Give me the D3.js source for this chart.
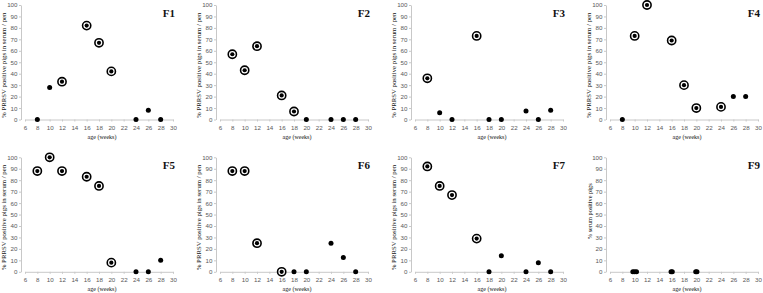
<!DOCTYPE html>
<html>
<head>
<meta charset="utf-8">
<style>
  body { margin: 0; background: #fff; }
  .axis path, .axis line { stroke: #c8c8c8; }
  .axis text { fill: #595959; font-family: "Liberation Sans", Arial, sans-serif; font-size: 6.2px; }
</style>
<script src="https://cdn.jsdelivr.net/npm/d3@7/dist/d3.min.js"></script>
</head>
<body>
<svg width="763" height="293"></svg>
<script>
// sampling ages (weeks)
var weeks = [8, 10, 12, 16, 18, 20, 24, 26, 28];

// % positive pigs per farm, and which points are circled
var f1 = [0, 28, 33, 82, 67, 42, 0, 8, 0];
var f1Ring = [0, 0, 1, 1, 1, 1, 0, 0, 0];
var f2 = [57, 43, 64, 21, 7, 0, 0, 0, 0];
var f2Ring = [1, 1, 1, 1, 1, 0, 0, 0, 0];
var f3 = [36, 6, 0, 73, 0, 0, 7.5, 0, 8];
var f3Ring = [1, 0, 0, 1, 0, 0, 0, 0, 0];
var f4 = [0, 73, 100, 69, 30, 10, 11, 20, 20];
var f4Ring = [0, 1, 1, 1, 1, 1, 1, 0, 0];
var f5 = [88, 100, 88, 83, 75, 8, 0, 0, 10];
var f5Ring = [1, 1, 1, 1, 1, 1, 0, 0, 0];
var f6 = [88, 88, 25, 0, 0, 0, 25, 12.5, 0];
var f6Ring = [1, 1, 1, 1, 0, 0, 0, 0, 0];
var f7 = [92, 75, 67, 29, 0, 14, 0, 8, 0];
var f7Ring = [1, 1, 1, 1, 0, 0, 0, 0, 0];

// F9 has several overlapping zero points
var f9Weeks = [9.7, 10, 10.3, 15.9, 16.1, 19.9, 20.1];
var f9 = [0, 0, 0, 0, 0, 0, 0];
var f9Ring = [0, 0, 0, 0, 0, 0, 0];

var xTicks = [6, 8, 10, 12, 14, 16, 18, 20, 22, 24, 26, 28, 30];
var yTicks = [0, 10, 20, 30, 40, 50, 60, 70, 80, 90, 100];

var panelNames = ["F1", "F2", "F3", "F4", "F5", "F6", "F7", "F9"];
var yTitles = ["% PRRSV positive pigs in serum / pen", "% PRRSV positive pigs in serum / pen",
  "% PRRSV positive pigs in serum / pen", "% PRRSV positive pigs in serum / pen",
  "% PRRSV positive pigs in serum / pen", "% PRRSV positive pigs in serum / pen",
  "% PRRSV positive pigs in serum / pen", "% serum positive pigs"];
var xTitle = "age (weeks)";

var panels = [
  {x: weeks, y: f1, ring: f1Ring}, {x: weeks, y: f2, ring: f2Ring},
  {x: weeks, y: f3, ring: f3Ring}, {x: weeks, y: f4, ring: f4Ring},
  {x: weeks, y: f5, ring: f5Ring}, {x: weeks, y: f6, ring: f6Ring},
  {x: weeks, y: f7, ring: f7Ring}, {x: f9Weeks, y: f9, ring: f9Ring}
];

var svg = d3.select("svg");
var plotW = 148, plotH = 114.5;

panels.forEach(function(p, i) {
  var col = i % 4, row = Math.floor(i / 4);
  var ox = 25 + col * 195, oy = 5 + row * 152.3;

  var g = svg.append("g").attr("transform", "translate(" + ox + "," + oy + ")");

  var x = d3.scaleLinear().domain([6, 30]).range([0, plotW]);
  var y = d3.scaleLinear().domain([0, 100]).range([plotH, 0]);

  g.append("g")
    .attr("class", "axis")
    .attr("transform", "translate(0," + plotH + ")")
    .call(d3.axisBottom(x).tickValues(xTicks).tickSize(2).tickSizeOuter(0).tickPadding(4));

  g.append("g")
    .attr("class", "axis")
    .attr("transform", "translate(-4,0)")
    .call(d3.axisLeft(y).tickValues(yTicks).tickSize(2).tickSizeOuter(0).tickPadding(1.5));

  var pts = p.x.map(function(d, k) { return {x: d, y: p.y[k], ring: p.ring[k]}; });

  g.selectAll("circle.ring")
    .data(pts.filter(function(d) { return d.ring; }))
    .enter().append("circle")
      .attr("class", "ring")
      .attr("cx", function(d) { return x(d.x); })
      .attr("cy", function(d) { return y(d.y); })
      .attr("r", 4.1)
      .attr("fill", "#fff")
      .attr("stroke", "#000")
      .attr("stroke-width", 1.6);

  g.selectAll("circle.dot")
    .data(pts)
    .enter().append("circle")
      .attr("class", "dot")
      .attr("cx", function(d) { return x(d.x); })
      .attr("cy", function(d) { return y(d.y); })
      .attr("r", function(d) { return d.ring ? 2.1 : 2.5; })
      .attr("fill", "#000");

  // titles
  g.append("text")
    .attr("transform", "translate(" + (i == 7 ? -20 : -21.5) + "," + (i == 7 ? 54 : plotH / 2 + 3) + ") rotate(-90)")
    .attr("text-anchor", "middle")
    .attr("dy", "0.35em")
    .attr("font-family", "'Liberation Serif', 'Times New Roman', serif")
    .attr("font-size", i == 7 ? 6.3 : 6.8)
    .attr("fill", "#111")
    .text(yTitles[i]);

  g.append("text")
    .attr("x", plotW / 2 + 3)
    .attr("y", plotH + 19)
    .attr("text-anchor", "middle")
    .attr("font-family", "'Liberation Serif', 'Times New Roman', serif")
    .attr("font-size", 6)
    .attr("fill", "#111")
    .text(xTitle);

  g.append("text")
    .attr("x", plotW + 2)
    .attr("y", 11.5)
    .attr("text-anchor", "end")
    .attr("font-family", "'Liberation Serif', 'Times New Roman', serif")
    .attr("font-weight", "bold")
    .attr("font-size", 11)
    .attr("fill", "#111")
    .text(panelNames[i]);
});
</script>
</body>
</html>
